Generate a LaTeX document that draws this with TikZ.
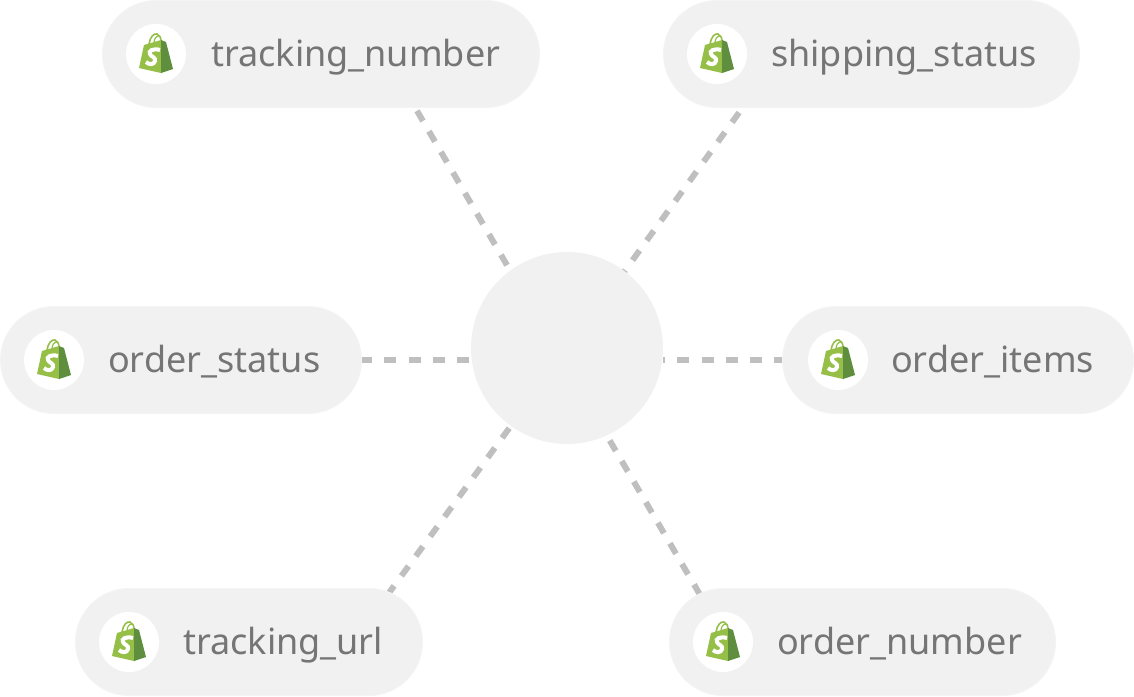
\documentclass[tikz,border=0pt]{standalone}
\usepackage{fontspec}
\setmainfont{Noto Sans}
\usetikzlibrary{shapes.misc,backgrounds}
\definecolor{pillgray}{HTML}{F1F1F1}
\definecolor{pilledge}{HTML}{F4F4F4}
\definecolor{linkgray}{HTML}{BFBFBF}
\definecolor{labelgray}{HTML}{757575}
\definecolor{baglight}{HTML}{95BF47}
\definecolor{bagdark}{HTML}{5E8E3E}
\tikzset{
    pill/.style={rounded rectangle, fill=pillgray, draw=pilledge, line width=1pt, minimum height=107pt, inner sep=0pt},
    hubnode/.style={circle, fill=pillgray, minimum size=192pt, inner sep=0pt},
    iconnode/.style={circle, fill=white, minimum size=60pt, inner sep=0pt},
    fieldname/.style={anchor=base west, inner sep=0pt, text=labelgray, font=\fontsize{36}{36}\selectfont},
    linkline/.style={draw=linkgray, line width=6pt, dash pattern=on 12pt off #1},
    linkline/.default=12.3pt,
    pics/shopbag/.style={code={
        \draw[baglight, line width=1.6pt] (-7,-10) .. controls (-6,-17) and (-2,-21) .. (1,-20) .. controls (4,-19) and (5,-16) .. (5,-12);
        \draw[baglight, line width=1.2pt] (-2,-11) .. controls (-2,-15) and (0,-18) .. (3,-18);
        \fill[baglight] (-12,-9) -- (5,-14) -- (5,19) -- (-17,14) -- cycle;
        \fill[bagdark] (5,-14) -- (10,-12) -- (17,15) -- (5,19) -- cycle;
        \draw[white, line width=4pt] (4,-4) .. controls (-3,-6) and (-8,-3) .. (-6,0) .. controls (-5,3) and (0,3) .. (-1,7) .. controls (-2,11) and (-7,11) .. (-10,8);
    }}
}
\begin{document}
\begin{tikzpicture}[x=1pt, y=-1pt]
\useasboundingbox (0, 0) rectangle (1134, 696);
\node[hubnode] (hub) at (567, 348){};
\node[pill, minimum width=437pt] (number) at (321, 54){};
\node[pill, minimum width=416pt] (shipping) at (871.5, 54){};
\node[pill, minimum width=361pt] (status) at (181, 360){};
\node[pill, minimum width=351pt] (items) at (958, 360){};
\node[pill, minimum width=347pt] (url) at (249, 642){};
\node[pill, minimum width=386pt] (ordernum) at (862.5, 642){};
\node[iconnode] (numbericon) at (156, 54){};
\node[iconnode] (shippingicon) at (717, 54){};
\node[iconnode] (statusicon) at (54, 360){};
\node[iconnode] (itemsicon) at (838, 360){};
\node[iconnode] (urlicon) at (129, 642){};
\node[iconnode] (ordernumicon) at (723, 642){};
\pic at (numbericon) {shopbag};
\pic at (shippingicon) {shopbag};
\pic at (statusicon) {shopbag};
\pic at (itemsicon) {shopbag};
\pic at (urlicon) {shopbag};
\pic at (ordernumicon) {shopbag};
\node[fieldname] (numbertext) at (211, 66){tracking\_number};
\node[fieldname] (shippingtext) at (771, 66){shipping\_status};
\node[fieldname] (statustext) at (108, 372){order\_status};
\node[fieldname] (itemstext) at (891, 372){order\_items};
\node[fieldname] (urltext) at (183, 654){tracking\_url};
\node[fieldname] (ordernumtext) at (777, 654){order\_number};
\coordinate (numberend) at (417, 110.8);
\coordinate (shippingend) at (739.2, 112.4);
\coordinate (urlend) at (387, 595.6);
\coordinate (ordernumend) at (699.7, 594.2);
\coordinate (hubnw) at (507, 265.2);
\coordinate (hubne) at (618.3, 279.9);
\coordinate (hubsw) at (509.2, 428.2);
\coordinate (hubse) at (609.7, 440.5);
\begin{scope}[on background layer]
\draw[linkline=11.84pt] (hubnw) -- (numberend);
\draw[linkline] (hubne) -- (shippingend);
\draw[linkline=12.4pt] (hubsw) -- (urlend);
\draw[linkline=11.84pt] (hubse) -- (ordernumend);
\draw[linkline, dash phase=22.8pt] (hub.west |- status.east) -- (status.east);
\draw[linkline, dash phase=10.3pt] (hub.east |- items.west) -- (items.west);
\end{scope}
\end{tikzpicture}
\end{document}
